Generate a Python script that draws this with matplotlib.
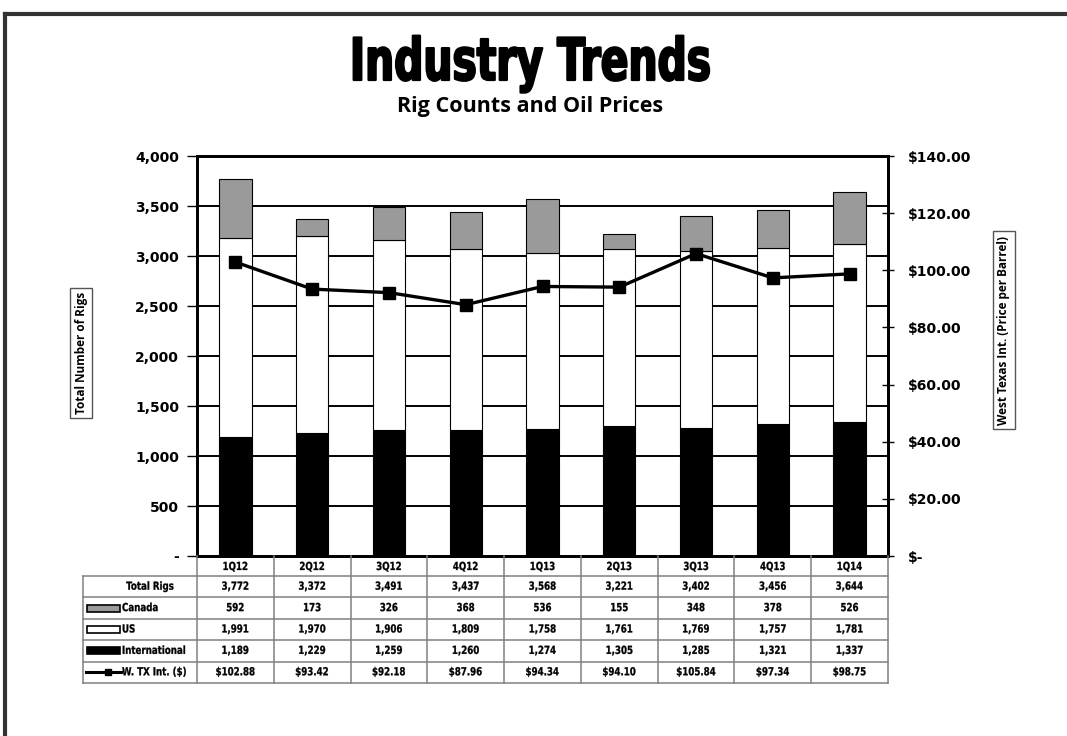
import matplotlib
matplotlib.use("Agg")
import matplotlib.pyplot as plt
import matplotlib.patheffects as pe
from matplotlib.patches import Rectangle
from matplotlib.lines import Line2D
from matplotlib.transforms import Affine2D
from matplotlib.ticker import FuncFormatter, MultipleLocator

quarters = ["1Q12", "2Q12", "3Q12", "4Q12", "1Q13", "2Q13", "3Q13", "4Q13", "1Q14"]
canada = [592, 173, 326, 368, 536, 155, 348, 378, 526]
us = [1991, 1970, 1906, 1809, 1758, 1761, 1769, 1757, 1781]
international = [1189, 1229, 1259, 1260, 1274, 1305, 1285, 1321, 1337]
wti = [102.88, 93.42, 92.18, 87.96, 94.34, 94.10, 105.84, 97.34, 98.75]
total = [c + u + i for c, u, i in zip(canada, us, international)]

W, H = 1067, 736
fig = plt.figure(figsize=(W / 100, H / 100), dpi=100)
fig.patch.set_facecolor("white")


class Squeeze(pe.AbstractPathEffect):
    """Draw text glyphs compressed horizontally (a condensed look),
    optionally with an outline to make them heavier."""

    def __init__(self, sx, anchor="center", lw=0.0):
        super().__init__()
        self.sx = sx
        self.anchor = anchor
        self.lw = lw

    def draw_path(self, renderer, gc, tpath, affine, rgbFace=None):
        verts = affine.transform(tpath.vertices) if len(tpath.vertices) else None
        if verts is None:
            return
        xmin, xmax = verts[:, 0].min(), verts[:, 0].max()
        cx = (xmin + xmax) / 2 if self.anchor == "center" else xmin
        aff = affine + Affine2D().translate(-cx, 0).scale(self.sx, 1).translate(cx, 0)
        gc0 = renderer.new_gc()
        gc0.copy_properties(gc)
        if self.lw:
            gc0.set_linewidth(self.lw)
            gc0.set_foreground(rgbFace)
        else:
            gc0.set_linewidth(0)
        renderer.draw_path(gc0, tpath, aff, rgbFace)
        gc0.restore()


def fx(px):
    return px / W


def fy(py):
    return 1 - py / H


# outer frame (top and left edges)
fig.add_artist(Line2D([fx(5), 1.0], [fy(14), fy(14)], color="#333333", lw=3))
fig.add_artist(Line2D([fx(5), fx(5)], [fy(14), 0.0], color="#333333", lw=3))

# titles
fig.text(fx(531), fy(80), "Industry Trends", ha="center", va="baseline",
         family="DejaVu Sans", weight="bold", fontsize=42,
         path_effects=[Squeeze(0.70, lw=1.6)])
fig.text(fx(530), fy(112), "Rig Counts and Oil Prices", ha="center", va="baseline",
         family="Open Sans", weight="bold", fontsize=15.5)

# main chart area
L, R, T, B = 197, 888, 156, 556
ax = fig.add_axes([fx(L), fy(B), fx(R - L), fy(T) - fy(B)])
x = list(range(len(quarters)))
bw = 0.42

ax.bar(x, international, bw, color="black", edgecolor="black", lw=0.8, zorder=3)
ax.bar(x, us, bw, bottom=international, color="white", edgecolor="black", lw=0.8, zorder=3)
base2 = [i + u for i, u in zip(international, us)]
ax.bar(x, canada, bw, bottom=base2, color="#9a9a9a", edgecolor="black", lw=0.8, zorder=3)

ax.set_xlim(-0.5, len(quarters) - 0.5)
ax.set_ylim(0, 4000)
ax.yaxis.set_major_locator(MultipleLocator(500))
ax.yaxis.set_major_formatter(FuncFormatter(lambda v, p: "-" if v == 0 else f"{v:,.0f}"))
ax.grid(axis="y", color="black", lw=1.4, zorder=0)
ax.set_xticks([])
for s in ax.spines.values():
    s.set_linewidth(2)
ax.tick_params(axis="y", direction="out", length=7, width=1, pad=6, labelsize=10)
for t in ax.get_yticklabels():
    t.set_fontweight("bold")

ax2 = ax.twinx()
ax2.plot(x, wti, color="black", lw=2.4, marker="s", markersize=9, zorder=5)
ax2.set_ylim(0, 140)
ax2.yaxis.set_major_locator(MultipleLocator(20))
ax2.yaxis.set_major_formatter(FuncFormatter(lambda v, p: "$-" if v == 0 else f"${v:,.2f}"))
ax2.tick_params(axis="y", direction="inout", length=8, width=1, pad=10, labelsize=10)
for t in ax2.get_yticklabels():
    t.set_fontweight("bold")
for s in ax2.spines.values():
    s.set_linewidth(2)

# boxed axis titles
box = dict(boxstyle="square,pad=0.35", fc="white", ec="#555555", lw=1)
fig.text(fx(81), fy(353), "Total Number of Rigs", rotation=90, ha="center", va="center",
         family="Open Sans", weight="bold", fontsize=8.5, bbox=box)
fig.text(fx(1004), fy(330), "West Texas Int. (Price per Barrel)", rotation=90, ha="center",
         va="center", family="Open Sans", weight="bold", fontsize=8.5, bbox=box)

# data table
TL, TB = 83, 683
tab = fig.add_axes([fx(TL), fy(TB), fx(R - TL), fy(B) - fy(TB)])
tab.axis("off")
upp = len(quarters) / (R - L)
x0 = -0.5 - (L - TL) * upp
tab.set_xlim(x0, len(quarters) - 0.5)
tab.set_ylim(TB - B, 0)

hdr = 20
nrows = 5
rh = (TB - B - hdr) / nrows
gc, glw = "#808080", 1.1
ybot = hdr + nrows * rh

for k in range(len(quarters) + 1):
    tab.plot([k - 0.5, k - 0.5], [0, ybot], color=gc, lw=glw, clip_on=False)
tab.plot([x0, x0], [hdr, ybot], color=gc, lw=glw, clip_on=False)
for r in range(nrows + 1):
    yy = hdr + r * rh
    tab.plot([x0, len(quarters) - 0.5], [yy, yy], color=gc, lw=glw, clip_on=False)

SQ = 0.78
tfont = dict(family="DejaVu Sans", weight="bold", fontsize=8, ha="center", va="center",
             path_effects=[Squeeze(SQ, lw=0.2)])
lfont = dict(family="DejaVu Sans", weight="bold", fontsize=8, ha="left", va="center",
             path_effects=[Squeeze(SQ, anchor="left", lw=0.2)])
for k, q in enumerate(quarters):
    tab.text(k, hdr / 2 + 1, q, **tfont)

rows = [
    [f"{v:,}" for v in total],
    [f"{v:,}" for v in canada],
    [f"{v:,}" for v in us],
    [f"{v:,}" for v in international],
    [f"${v:,.2f}" for v in wti],
]
for r, vals in enumerate(rows):
    yc = hdr + r * rh + rh / 2
    for k, v in enumerate(vals):
        tab.text(k, yc, v, **tfont)


def px2x(px):
    return x0 + (px - TL) * upp


tab.text(px2x(150), hdr + rh / 2, "Total Rigs", **tfont)
keys = [("Canada", "#9a9a9a"), ("US", "white"), ("International", "black")]
for r, (name, col) in enumerate(keys, start=1):
    yc = hdr + r * rh + rh / 2
    tab.add_patch(Rectangle((px2x(87), yc - 3.5), px2x(120) - px2x(87), 7,
                            fc=col, ec="black", lw=1.2, clip_on=False))
    tab.text(px2x(122), yc, name, **lfont)
yc = hdr + 4 * rh + rh / 2
tab.plot([px2x(86), px2x(121)], [yc, yc], color="black", lw=2.2, clip_on=False)
tab.plot([px2x(108)], [yc], marker="s", color="black", markersize=5, clip_on=False)
tab.text(px2x(122), yc, "W. TX Int. ($)", **lfont)

fig.savefig("out.png", dpi=100, facecolor="white")
